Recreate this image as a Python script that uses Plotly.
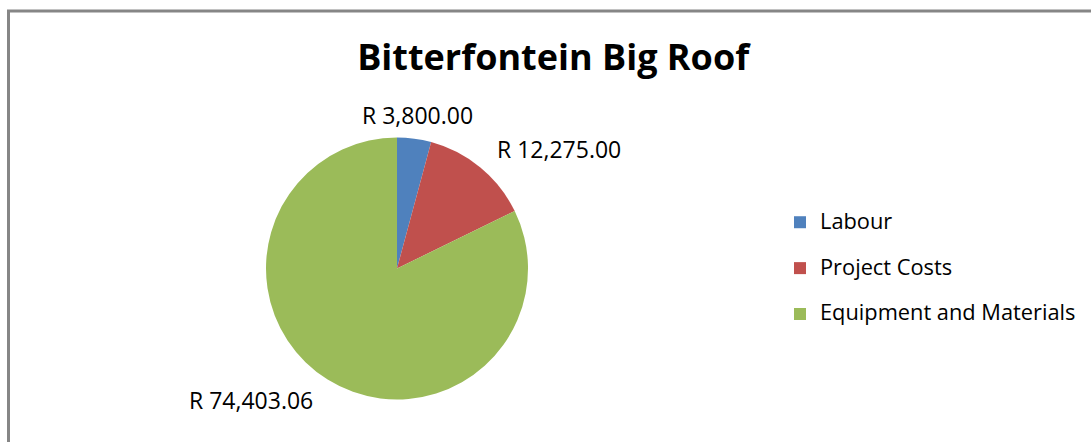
import math
import plotly.graph_objects as go

# ---- data ----
categories = ["Labour", "Project Costs", "Equipment and Materials"]
values = [3800.00, 12275.00, 74403.06]
colors = ["#4F81BD", "#C0504D", "#9BBB59"]
title_text = "Bitterfontein Big Roof"

W, H = 1091, 442
FONT = "Open Sans"

# pie geometry (paper fractions)
dom_x = [266 / W, 528 / W]
dom_y = [1 - 400 / H, 1 - 137 / H]

legend_names = ['<span style="font-size:21.8px">%s</span><br>\u00a0' % c for c in categories]

fig = go.Figure()
fig.add_trace(go.Pie(
    labels=legend_names,
    values=values,
    marker=dict(colors=colors, line=dict(width=0)),
    sort=False,
    direction="clockwise",
    rotation=0,
    textinfo="none",
    hoverinfo="label+value",
    domain=dict(x=dom_x, y=dom_y),
))

# data labels placed from the slice angles
total = sum(values)
cx = (dom_x[0] + dom_x[1]) / 2 * W
cy = (1 - (dom_y[0] + dom_y[1]) / 2) * H
r = (dom_x[1] - dom_x[0]) * W / 2
f = 1.18
cum = 0.0
annotations = []
for v in values:
    mid = (cum + v / 2) / total * 2 * math.pi
    cum += v
    s, c = math.sin(mid), math.cos(mid)
    px = cx + r * f * s
    py = cy - r * f * c
    xa = "left" if s > 0.3 else ("right" if s < -0.3 else "center")
    annotations.append(dict(
        x=px / W, y=1 - py / H, xref="paper", yref="paper",
        text="R {:,.2f}".format(v), showarrow=False,
        xanchor=xa, yanchor="middle",
        font=dict(family=FONT, size=23, color="#000000"),
    ))

fig.update_layout(
    width=W, height=H,
    margin=dict(l=0, r=0, t=0, b=0),
    paper_bgcolor="white",
    plot_bgcolor="white",
    title=dict(
        text="<b>%s</b>" % title_text,
        x=0.507, xanchor="center",
        y=1 - 57 / H, yanchor="middle", yref="paper",
        font=dict(family=FONT, size=36, color="#000000"),
    ),
    showlegend=True,
    legend=dict(
        x=780 / W, xanchor="left",
        y=1 - 205 / H, yanchor="top",
        valign="top",
        font=dict(family=FONT, size=16.5, color="#000000"),
        bgcolor="rgba(0,0,0,0)",
        traceorder="normal",
    ),
    annotations=annotations,
    shapes=[dict(
        type="rect", xref="paper", yref="paper",
        x0=8.5 / W, x1=1.05, y0=-0.1, y1=1 - 11 / H,
        line=dict(color="#868686", width=3),
        fillcolor="rgba(0,0,0,0)",
    )],
)

fig.write_html("out.html", config={"displayModeBar": False},
               post_script="document.body.style.margin='0';")
